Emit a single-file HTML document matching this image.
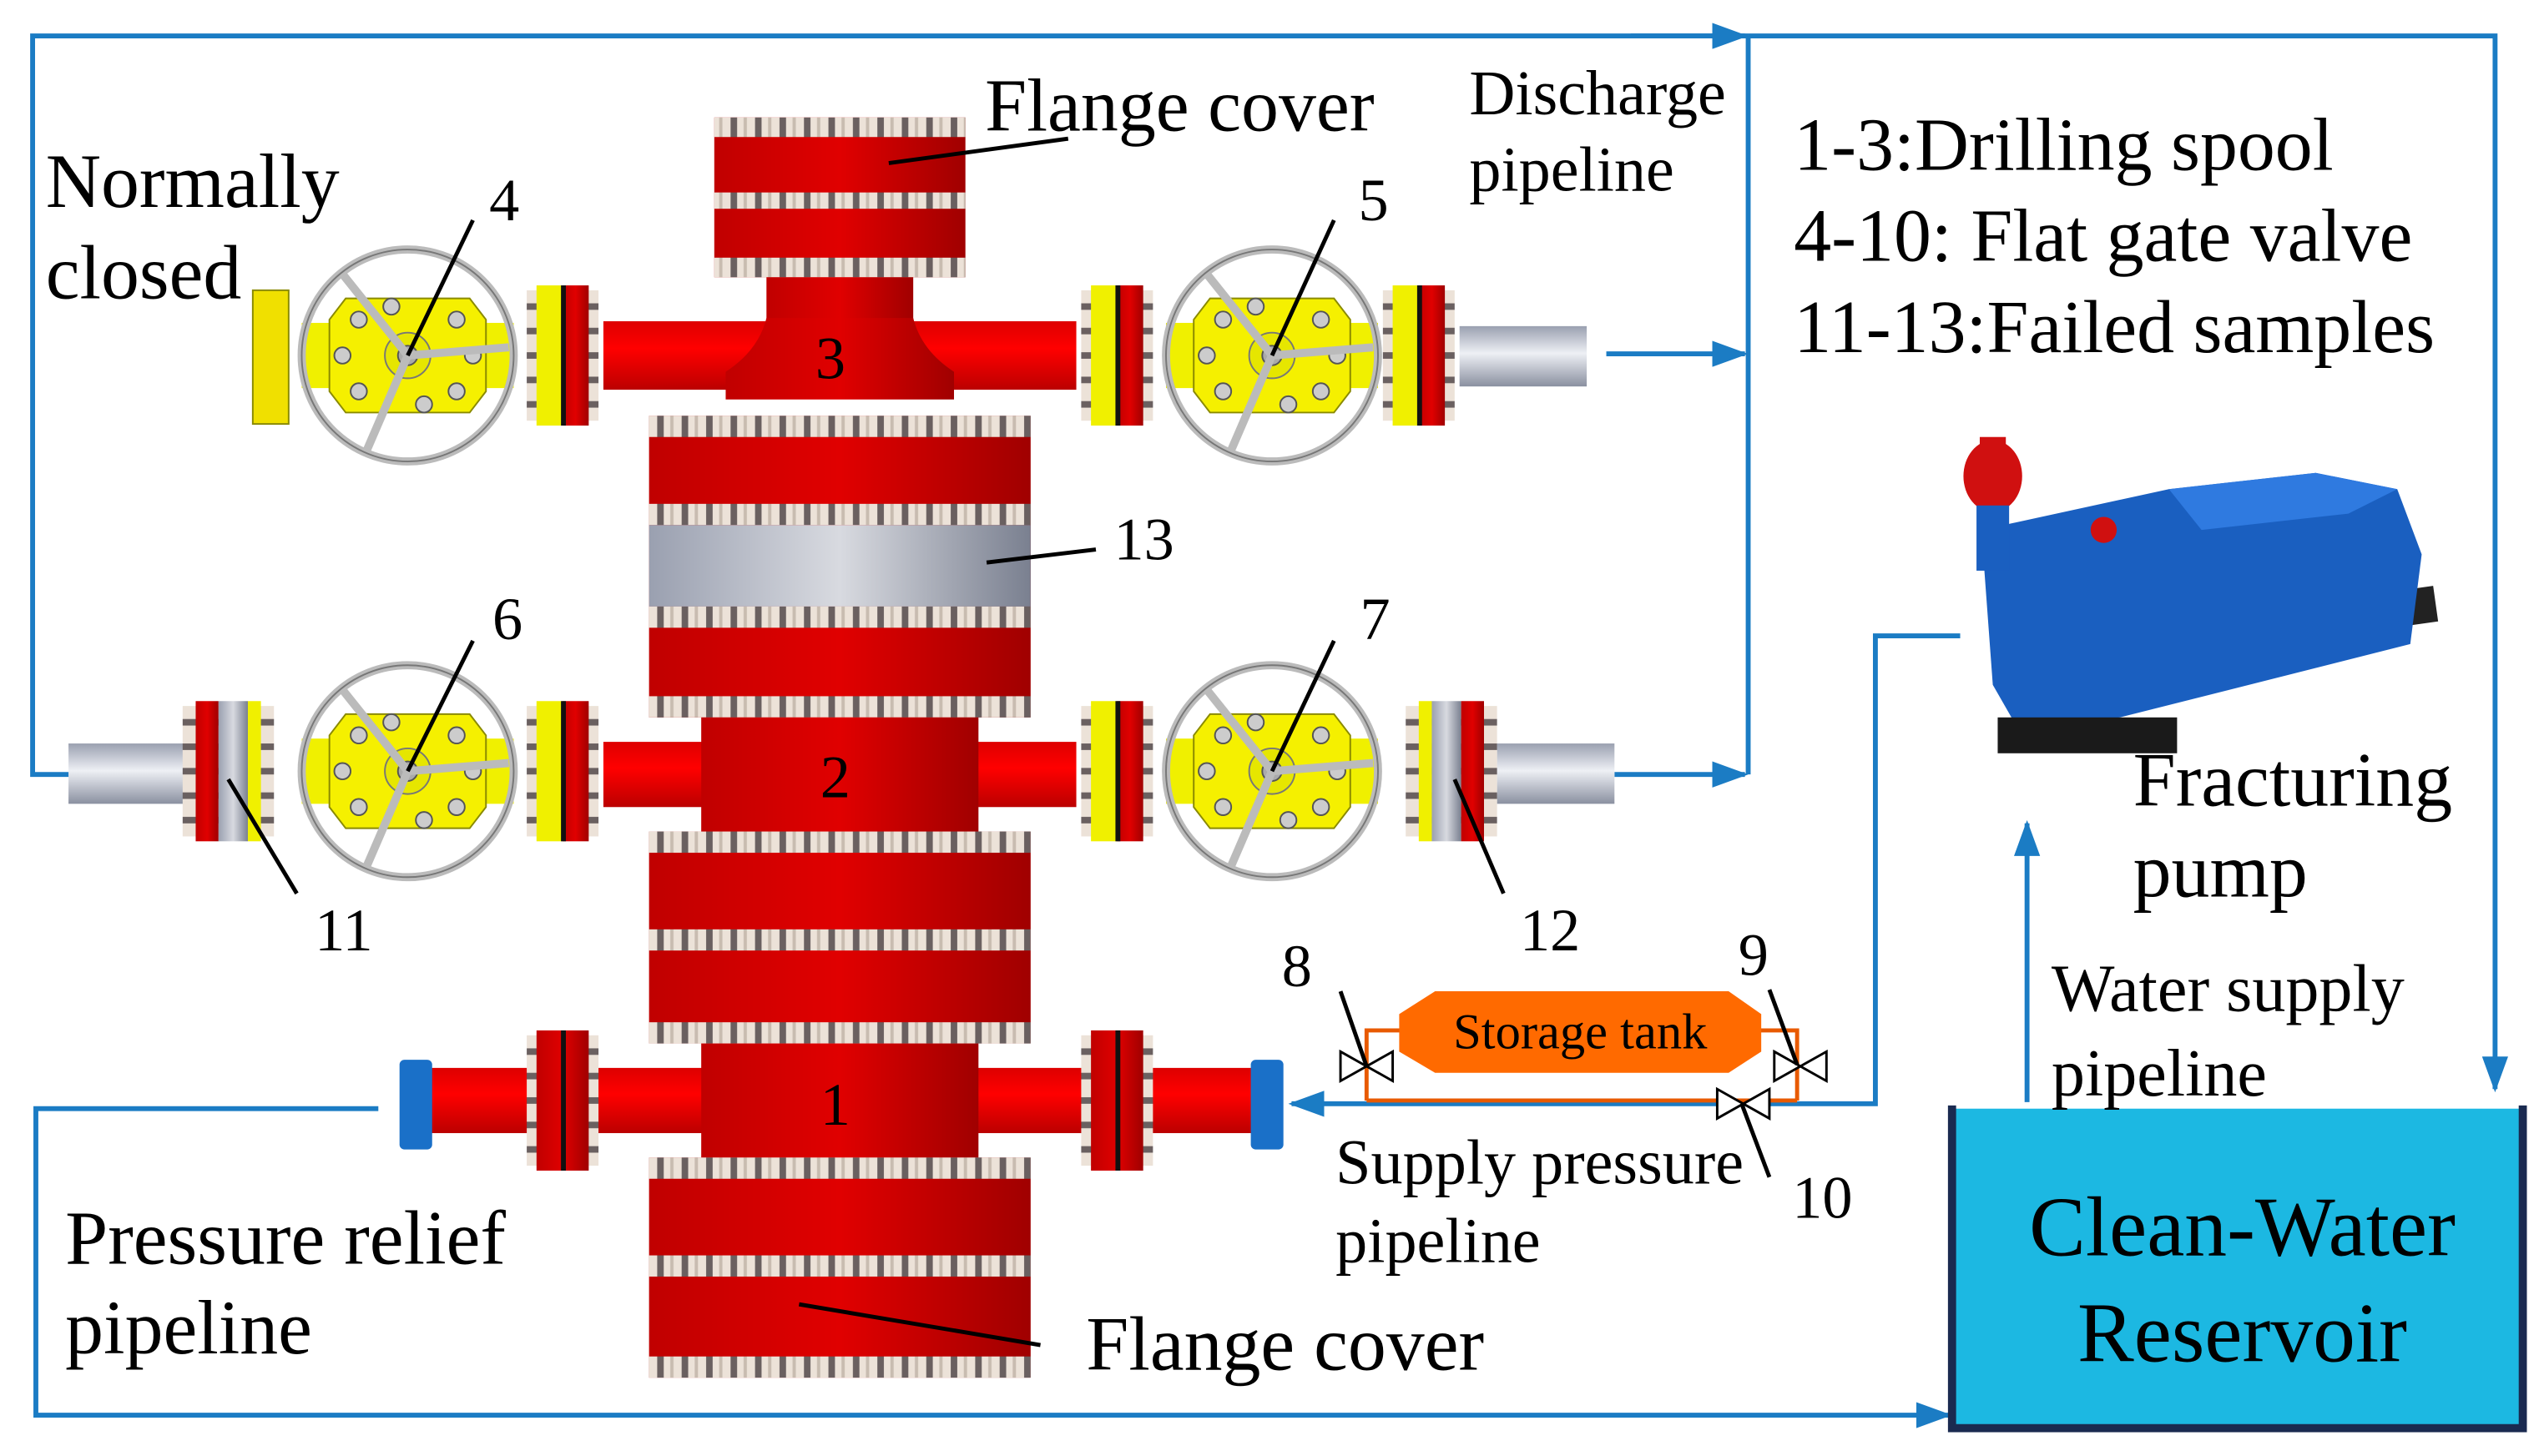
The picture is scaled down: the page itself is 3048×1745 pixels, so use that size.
<!DOCTYPE html>
<html><head><meta charset="utf-8"><style>
html,body{margin:0;padding:0;background:#fff}
svg{display:block}
text{font-family:"Liberation Serif",serif;fill:#000}
</style></head><body>
<svg width="3048" height="1745" viewBox="0 0 1560 893" xmlns="http://www.w3.org/2000/svg">
<defs>
<marker id="ab" markerWidth="22" markerHeight="16" refX="20" refY="8" orient="auto" markerUnits="userSpaceOnUse"><path d="M0,0 L22,8 L0,16 Z" fill="#1b7cc4"/></marker>
<pattern id="bolt" width="15" height="14" patternUnits="userSpaceOnUse"><rect width="15" height="14" fill="#6a6060"/><rect x="2" width="11" height="14" fill="#ece2d8"/><rect x="6" width="2" height="14" fill="#c8bcb0"/></pattern>
<pattern id="boltv" width="14" height="15" patternUnits="userSpaceOnUse"><rect width="14" height="15" fill="#6a6060"/><rect y="2" width="14" height="11" fill="#ece2d8"/></pattern>
<linearGradient id="red" x1="0" x2="1"><stop offset="0" stop-color="#c00000"/><stop offset="0.5" stop-color="#e00000"/><stop offset="1" stop-color="#a00000"/></linearGradient>
<linearGradient id="redv" x1="0" y1="0" x2="0" y2="1"><stop offset="0" stop-color="#d00"/><stop offset="0.4" stop-color="#f00"/><stop offset="1" stop-color="#b00"/></linearGradient>
<linearGradient id="silv" x1="0" y1="0" x2="0" y2="1"><stop offset="0" stop-color="#9aa0b0"/><stop offset="0.45" stop-color="#eef0f5"/><stop offset="1" stop-color="#8a90a0"/></linearGradient>
<linearGradient id="silh" x1="0" x2="1"><stop offset="0" stop-color="#9aa0b0"/><stop offset="0.5" stop-color="#d8dae0"/><stop offset="1" stop-color="#7a8090"/></linearGradient>
<g id="valve">
 <rect x="-65" y="-20" width="130" height="40" fill="#f0f000"/>
 <polygon points="-38,-35 38,-35 48,-22 48,22 38,35 -38,35 -48,22 -48,-22" fill="#f5f000" stroke="#8a8a00"/>
 <circle r="14" fill="#e6e600" stroke="#777"/>
 <circle r="6" fill="#aaa" stroke="#555"/>
 <circle cx="-30" cy="-22" r="5" fill="#ccc" stroke="#555"/><circle cx="30" cy="-22" r="5" fill="#ccc" stroke="#555"/>
 <circle cx="-30" cy="22" r="5" fill="#ccc" stroke="#555"/><circle cx="30" cy="22" r="5" fill="#ccc" stroke="#555"/>
 <circle cx="-40" cy="0" r="5" fill="#ccc" stroke="#555"/><circle cx="40" cy="0" r="5" fill="#ccc" stroke="#555"/>
 <circle cx="-10" cy="-30" r="5" fill="#ccc" stroke="#555"/><circle cx="10" cy="30" r="5" fill="#ccc" stroke="#555"/>
 <circle r="65" fill="none" stroke="#bbb" stroke-width="5"/>
 <circle r="65" fill="none" stroke="#777" stroke-width="1"/>
 <line x1="0" y1="0" x2="-40" y2="-50" stroke="#bbb" stroke-width="5"/>
 <line x1="0" y1="0" x2="62" y2="-5" stroke="#bbb" stroke-width="5"/>
 <line x1="0" y1="0" x2="-25" y2="58" stroke="#bbb" stroke-width="5"/>
</g>
<g id="flg">
 <rect x="-22" y="-40" width="44" height="80" fill="url(#boltv)"/>
 <rect x="-16" y="-43" width="32" height="86" fill="url(#red)"/>
 <rect x="-1" y="-43" width="3" height="86" fill="#111"/>
</g>
<g id="flgy">
 <rect x="-22" y="-40" width="44" height="80" fill="url(#boltv)"/>
 <rect x="-16" y="-43" width="16" height="86" fill="#f0f000"/>
 <rect x="0" y="-43" width="16" height="86" fill="url(#red)"/>
 <rect x="-1" y="-43" width="3" height="86" fill="#111"/>
</g>
</defs>

<g stroke="#1b7cc4" stroke-width="3" fill="none">
 <polyline points="45,475 20,475 20,22 1072,22"/>
 <line x1="1000" y1="22" x2="1070" y2="22" marker-end="url(#ab)"/>
 <polyline points="1072,22 1530,22 1530,668" marker-end="url(#ab)"/>
 <line x1="1072" y1="22" x2="1072" y2="475"/>
 <line x1="985" y1="217" x2="1070" y2="217" marker-end="url(#ab)"/>
 <line x1="990" y1="475" x2="1070" y2="475" marker-end="url(#ab)"/>
 <polyline points="232,680 22,680 22,868 1195,868" marker-end="url(#ab)"/>
 <polyline points="1202,390 1150,390 1150,677 792,677" marker-end="url(#ab)"/>
 <line x1="1243" y1="676" x2="1243" y2="505" marker-end="url(#ab)"/>
</g>

<rect x="1197" y="680" width="348" height="195" fill="#1cb8e2"/>
<polyline points="1197,678 1197,876 1547,876 1547,678" fill="none" stroke="#1a2a50" stroke-width="5"/>
<text x="1375" y="770" font-size="52" text-anchor="middle">Clean-Water</text>
<text x="1375" y="835" font-size="52" text-anchor="middle">Reservoir</text>

<rect x="370" y="197" width="290" height="42" fill="url(#redv)"/>
<rect x="370" y="455" width="290" height="40" fill="url(#redv)"/>
<rect x="260" y="655" width="510" height="40" fill="url(#redv)"/>
<rect x="155" y="178" width="22" height="82" fill="#f0e000" stroke="#8a8a00"/>
<rect x="895" y="200" width="78" height="37" fill="url(#silv)"/>
<rect x="42" y="456" width="75" height="37" fill="url(#silv)"/>
<rect x="918" y="456" width="72" height="37" fill="url(#silv)"/>
<rect x="245" y="650" width="20" height="55" rx="3" fill="#1a70c8"/>
<rect x="767" y="650" width="20" height="55" rx="3" fill="#1a70c8"/>

<rect x="438" y="72" width="154" height="98" fill="url(#red)"/>
<rect x="438" y="72" width="154" height="12" fill="url(#bolt)"/>
<rect x="438" y="118" width="154" height="10" fill="url(#bolt)"/>
<rect x="438" y="158" width="154" height="12" fill="url(#bolt)"/>
<rect x="470" y="170" width="90" height="32" fill="url(#red)"/>
<path d="M470,195 Q465,215 445,228 L445,245 L585,245 L585,228 Q565,215 560,195 Z" fill="url(#red)"/>

<rect x="398" y="255" width="234" height="185" fill="url(#red)"/>
<rect x="398" y="255" width="234" height="13" fill="url(#bolt)"/>
<rect x="398" y="309" width="234" height="13" fill="url(#bolt)"/>
<rect x="398" y="322" width="234" height="50" fill="url(#silh)"/>
<rect x="398" y="372" width="234" height="13" fill="url(#bolt)"/>
<rect x="398" y="427" width="234" height="13" fill="url(#bolt)"/>
<rect x="430" y="440" width="170" height="70" fill="url(#red)"/>
<rect x="398" y="510" width="234" height="130" fill="url(#red)"/>
<rect x="398" y="510" width="234" height="13" fill="url(#bolt)"/>
<rect x="398" y="570" width="234" height="13" fill="url(#bolt)"/>
<rect x="398" y="627" width="234" height="13" fill="url(#bolt)"/>
<rect x="430" y="640" width="170" height="70" fill="url(#red)"/>
<rect x="398" y="710" width="234" height="135" fill="url(#red)"/>
<rect x="398" y="710" width="234" height="13" fill="url(#bolt)"/>
<rect x="398" y="770" width="234" height="13" fill="url(#bolt)"/>
<rect x="398" y="832" width="234" height="13" fill="url(#bolt)"/>

<use href="#flgy" x="345" y="218"/><use href="#flgy" x="685" y="218"/><use href="#flgy" x="870" y="218"/>
<use href="#flgy" x="345" y="473"/><use href="#flgy" x="685" y="473"/>
<g transform="translate(140,473)"><rect x="-28" y="-40" width="56" height="80" fill="url(#boltv)"/><rect x="-20" y="-43" width="14" height="86" fill="url(#red)"/><rect x="-6" y="-43" width="18" height="86" fill="url(#silh)"/><rect x="12" y="-43" width="8" height="86" fill="#f0f000"/></g>
<g transform="translate(890,473)"><rect x="-28" y="-40" width="56" height="80" fill="url(#boltv)"/><rect x="-20" y="-43" width="8" height="86" fill="#f0f000"/><rect x="-12" y="-43" width="18" height="86" fill="url(#silh)"/><rect x="6" y="-43" width="14" height="86" fill="url(#red)"/></g>
<use href="#flg" x="345" y="675"/><use href="#flg" x="685" y="675"/>

<use href="#valve" x="250" y="218"/><use href="#valve" x="780" y="218"/>
<use href="#valve" x="250" y="473"/><use href="#valve" x="780" y="473"/>

<g stroke="#e85a00" stroke-width="2.5" fill="none">
 <polyline points="838,675 838,632 860,632"/>
 <polyline points="1078,632 1102,632 1102,675"/>
 <line x1="838" y1="675" x2="1102" y2="675"/>
</g>
<polygon points="880,608 1060,608 1080,622 1080,645 1060,658 880,658 858,645 858,622" fill="#ff6a00"/>
<text x="969" y="643" font-size="31" text-anchor="middle">Storage tank</text>
<g stroke="#000" stroke-width="1.5" fill="#fff">
 <path d="M822,645 L854,663 L854,645 L822,663 Z"/>
 <path d="M1088,645 L1120,663 L1120,645 L1088,663 Z"/>
 <path d="M1053,668 L1085,686 L1085,668 L1053,686 Z"/>
</g>

<g>
 <rect x="1230" y="378" width="265" height="22" fill="#222" transform="rotate(-8 1360 390)"/>
 <path d="M1215,325 L1330,300 L1420,290 L1470,300 L1485,340 L1478,395 L1300,440 L1238,448 L1222,420 Z" fill="#1a5fc0"/>
 <path d="M1330,300 L1420,290 L1470,300 L1440,315 L1350,325 Z" fill="#2f7ae0"/>
 <rect x="1225" y="440" width="110" height="22" fill="#1a1a1a"/>
 <ellipse cx="1222" cy="292" rx="18" ry="22" fill="#d01010"/>
 <rect x="1214" y="268" width="16" height="10" fill="#d01010"/>
 <rect x="1212" y="310" width="20" height="40" fill="#1a5fc0"/>
 <circle cx="1290" cy="325" r="8" fill="#d01010"/>
</g>

<g stroke="#000" stroke-width="2.5">
 <line x1="545" y1="100" x2="655" y2="85"/>
 <line x1="250" y1="218" x2="290" y2="135"/>
 <line x1="780" y1="218" x2="818" y2="135"/>
 <line x1="250" y1="473" x2="290" y2="393"/>
 <line x1="780" y1="473" x2="818" y2="393"/>
 <line x1="605" y1="345" x2="672" y2="337"/>
 <line x1="140" y1="478" x2="182" y2="548"/>
 <line x1="892" y1="478" x2="922" y2="548"/>
 <line x1="490" y1="800" x2="638" y2="825"/>
 <line x1="822" y1="608" x2="838" y2="654"/>
 <line x1="1085" y1="607" x2="1102" y2="653"/>
 <line x1="1068" y1="677" x2="1085" y2="722"/>
</g>

<text x="604" y="80" font-size="46">Flange cover</text>
<text x="901" y="70" font-size="39">Discharge</text>
<text x="901" y="117" font-size="39">pipeline</text>
<text x="28" y="127" font-size="47">Normally</text>
<text x="28" y="183" font-size="47">closed</text>
<text x="1100" y="104" font-size="46">1-3:Drilling spool</text>
<text x="1100" y="160" font-size="46">4-10: Flat gate valve</text>
<text x="1100" y="216" font-size="46">11-13:Failed samples</text>
<g font-size="37">
<text x="300" y="135">4</text><text x="833" y="135">5</text>
<text x="302" y="392">6</text><text x="834" y="392">7</text>
<text x="500" y="232">3</text><text x="503" y="489">2</text><text x="503" y="690">1</text>
<text x="683" y="343">13</text>
<text x="193" y="583">11</text><text x="932" y="583">12</text>
<text x="786" y="605">8</text><text x="1066" y="598">9</text><text x="1099" y="747">10</text>
</g>
<text x="1308" y="494" font-size="47">Fracturing</text>
<text x="1308" y="550" font-size="47">pump</text>
<text x="1258" y="620" font-size="41">Water supply</text>
<text x="1258" y="672" font-size="41">pipeline</text>
<text x="819" y="726" font-size="39">Supply pressure</text>
<text x="819" y="774" font-size="39">pipeline</text>
<text x="40" y="775" font-size="47">Pressure relief</text>
<text x="40" y="830" font-size="47">pipeline</text>
<text x="666" y="840" font-size="47">Flange cover</text>
</svg>
</body></html>
